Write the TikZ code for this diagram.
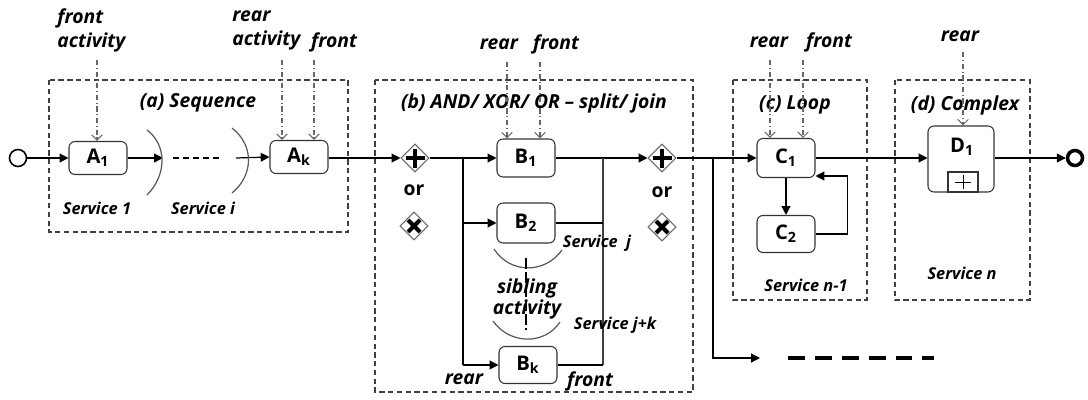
\documentclass[tikz,border=0pt]{standalone}
\usepackage{fontspec}
\setmainfont{Open Sans}
\usetikzlibrary{arrows.meta,shapes.geometric}
\begin{document}
\begin{tikzpicture}[x=0.02cm,y=-0.02cm,
 box/.style={draw=black!80, rounded corners=0.12cm, fill=white, font=\fontsize{11.5}{14}\selectfont\bfseries, inner sep=0pt, line width=0.6pt},
 arr/.style={-{Triangle[length=5pt,width=5pt]}, line width=0.7pt},
 ln/.style={line width=0.7pt},
 frame/.style={draw=black!75, dash pattern=on 3pt off 2pt, line width=0.6pt},
 dd/.style={draw=black!60, dash pattern=on 3pt off 1.5pt on 0.6pt off 1.5pt, line width=0.6pt, -{Straight Barb[length=3pt,width=6pt]}},
 hd/.style={font=\fontsize{11}{13.6}\selectfont\bfseries\itshape, inner sep=0pt},
 sv/.style={font=\fontsize{9.3}{11}\selectfont\bfseries\itshape, inner sep=0pt},
 orl/.style={font=\fontsize{11}{13}\selectfont\bfseries, inner sep=0pt},
 gw/.style={diamond, draw=black!60, minimum size=0.56cm, inner sep=0pt, fill=white, line width=0.6pt},
 sym/.style={line width=1.8pt},
 xsym/.style={line width=2.4pt},
 curve/.style={draw=black!65, line width=0.7pt}
]
\useasboundingbox (0,0) rectangle (1088,399);

% frames
\draw[frame] (49,80) rectangle (348,232);
\draw[frame] (375,80) rectangle (693,392);
\draw[frame] (733,80) rectangle (867,300);
\draw[frame] (895,80) rectangle (1030,300);

% headings
\node[hd] (ha) at (198,103) {(a) Sequence};
\node[hd] (hb) at (534,103) {(b) AND/ XOR/ OR – split/ join};
\node[hd] (hc) at (795,105) {(c) Loop};
\node[hd] (hdd) at (965,105) {(d) Complex};

% start / end
\node[circle, draw, line width=0.9pt, minimum size=0.34cm, inner sep=0pt] (s) at (18,158) {};
\node[circle, draw, line width=2pt, minimum size=0.3cm, inner sep=0pt] (e) at (1075,158) {};

% (a) sequence
\node[box, minimum width=1.16cm, minimum height=0.66cm] (A1) at (98,158) {A\textsubscript{1}};
\node[box, minimum width=1.16cm, minimum height=0.66cm] (Ak) at (299,157) {A\textsubscript{k}};
\draw[arr] (s) -- (A1);
\coordinate (c1) at (163,158);
\coordinate (c2) at (236,158);
\draw[arr] (A1) -- (c1);
\draw[arr] (c2) -- (Ak.west);
\draw[curve] (147,130) .. controls (167,145) and (167,175) .. (147,195);
\draw[curve] (232,128) .. controls (254,145) and (254,175) .. (232,193);
\draw[line width=1.3pt, dash pattern=on 3.5pt off 2.2pt] (173,158) -- (222,158);
\node[sv] (s1) at (97,208) {Service 1};
\node[sv] (si) at (203,208) {Service i};

\node[hd, align=left, anchor=west] (fa) at (57,30) {front\\activity};
\node[hd, align=left, anchor=west] (ra) at (232,30) {rear\\activity};
\node[hd] (fr1) at (334,42) {front};
\coordinate (t1) at (97,60);
\coordinate (t2) at (282,60);
\coordinate (t3) at (314,60);
\draw[dd] (t1) -- (t1 |- A1.north);
\draw[dd] (t2) -- (t2 |- Ak.north);
\draw[dd] (t3) -- (t3 |- Ak.north);

% (b) split / join
\node[gw] (g1) at (415,158) {};
\draw[sym] ([xshift=-0.19cm]g1.center) -- ([xshift=0.19cm]g1.center);
\draw[sym] ([yshift=-0.19cm]g1.center) -- ([yshift=0.19cm]g1.center);
\node[orl] (or1) at (414,190) {or};
\node[gw] (x1) at (414,226) {};
\draw[xsym] ([shift={(-0.12cm,-0.12cm)}]x1.center) -- ([shift={(0.12cm,0.12cm)}]x1.center);
\draw[xsym] ([shift={(-0.12cm,0.12cm)}]x1.center) -- ([shift={(0.12cm,-0.12cm)}]x1.center);

\node[gw] (g2) at (662,158) {};
\draw[sym] ([xshift=-0.19cm]g2.center) -- ([xshift=0.19cm]g2.center);
\draw[sym] ([yshift=-0.19cm]g2.center) -- ([yshift=0.19cm]g2.center);
\node[orl] (or2) at (662,192) {or};
\node[gw] (x2) at (662,227) {};
\draw[xsym] ([shift={(-0.12cm,-0.12cm)}]x2.center) -- ([shift={(0.12cm,0.12cm)}]x2.center);
\draw[xsym] ([shift={(-0.12cm,0.12cm)}]x2.center) -- ([shift={(0.12cm,-0.12cm)}]x2.center);

\draw[arr] (Ak.east |- g1) -- (g1.west);

\node[box, minimum width=1.16cm, minimum height=0.76cm] (B1) at (526,158) {B\textsubscript{1}};
\node[box, minimum width=1.16cm, minimum height=0.8cm] (B2) at (526,223) {B\textsubscript{2}};
\node[box, minimum width=1.16cm, minimum height=0.74cm] (Bk) at (528,365) {B\textsubscript{k}};

\coordinate (j1) at (463,158);
\coordinate (j2) at (603,158);
\draw[arr] (g1.east) -- (B1.west);
\draw[ln] (j1) -- (j1 |- Bk.west);
\draw[arr] (j1 |- B2.west) -- (B2.west);
\draw[arr] (j1 |- Bk.west) -- (Bk.west);
\draw[arr] (B1.east) -- (g2.west);
\draw[ln, draw=black!75] (j2) -- (j2 |- Bk.east);
\draw[ln] (B2.east) -- (B2.east -| j2);
\draw[ln] (Bk.east) -- (Bk.east -| j2);

\draw[curve] (494,249) .. controls (510,274) and (545,274) .. (562,250);
\draw[curve] (493,321) .. controls (510,345) and (545,345) .. (560,322);
\draw[line width=1.2pt, dash pattern=on 6pt off 2pt] (526,258) -- (526,330);
\node[hd, align=center, font=\fontsize{11}{12}\selectfont\bfseries\itshape] (sib) at (527,299) {sibling\\activity};
\node[sv] (sj) at (597,243) {Service\ \ j};
\node[sv] (sjk) at (615,325) {Service j+k};
\node[hd] (rb) at (464,379) {rear};
\node[hd] (fb) at (590,381) {front};

\node[hd] (rb1) at (499,44) {rear};
\node[hd] (fb1) at (556,44) {front};
\coordinate (t4) at (507,62);
\coordinate (t5) at (540,62);
\draw[dd] (t4) -- (t4 |- B1.north);
\draw[dd] (t5) -- (t5 |- B1.north);

% exit of (b)
\node[box, minimum width=1.16cm, minimum height=0.78cm] (C1) at (786,158) {C\textsubscript{1}};
\node[box, minimum width=1.16cm, minimum height=0.74cm] (C2) at (786,234) {C\textsubscript{2}};
\coordinate (j3) at (713,158);
\coordinate (m1) at (760,358);
\draw[arr] (g2.east) -- (C1.west);
\draw[arr] (j3) |- (m1);
\draw[line width=2.3pt, dash pattern=on 9.6pt off 5.7pt] (788,358) -- (934,358);

% (c) loop
\draw[arr] (C1.south) -- (C2.north);
\draw[arr] (C2.east) -- ++(32,0) |- ([yshift=-0.36cm]C1.east);
\node[sv] (sn1) at (806,285) {Service n-1};
\node[hd] (rc) at (769,42) {rear};
\node[hd] (fc) at (829,42) {front};
\coordinate (t6) at (770,60);
\coordinate (t7) at (803,60);
\draw[dd] (t6) -- (t6 |- C1.north);
\draw[dd] (t7) -- (t7 |- C1.north);

% (d) complex
\node[box, minimum width=1.32cm, minimum height=1.32cm] (D1) at (961,159) {};
\node[font=\fontsize{11.5}{14}\selectfont\bfseries, inner sep=0pt] (D1t) at (962,147) {D\textsubscript{1}};
\node[draw=black!80, line width=0.6pt, minimum width=0.6cm, minimum height=0.4cm, inner sep=0pt] (D1p) at (963,182) {};
\draw[line width=0.5pt] ([xshift=-0.16cm]D1p.center) -- ([xshift=0.16cm]D1p.center);
\draw[line width=0.5pt] ([yshift=-0.14cm]D1p.center) -- ([yshift=0.14cm]D1p.center);
\draw[arr] (C1.east) -- (C1.east -| D1.west);
\draw[arr] (D1.east |- e) -- (e.west);
\node[sv] (sn) at (962,273) {Service n};
\node[hd] (rd) at (960,36) {rear};
\coordinate (t8) at (963,52);
\draw[dd] (t8) -- (t8 |- D1.north);
\end{tikzpicture}
\end{document}
